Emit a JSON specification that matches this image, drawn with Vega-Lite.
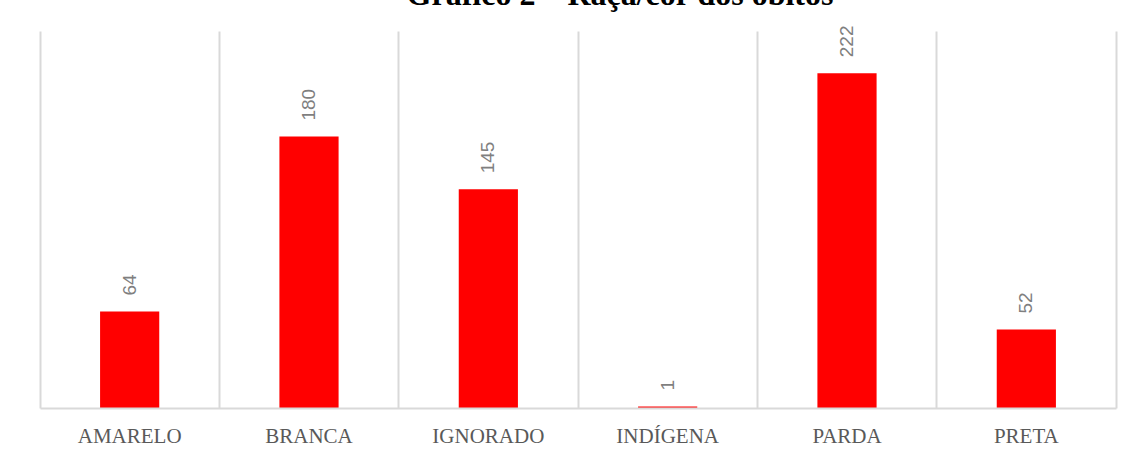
{
  "$schema": "https://vega.github.io/schema/vega-lite/v6.json",
  "autosize": {"type": "none"},
  "padding": {"left": 40, "top": 31, "right": 18, "bottom": 52},
  "width": 1076,
  "height": 377,
  "background": "white",
  "title": {
    "text": "Gráfico 2 – Raça/cor dos óbitos",
    "font": "Liberation Serif",
    "fontSize": 32,
    "fontWeight": "bold",
    "color": "black",
    "anchor": "middle",
    "dx": 42,
    "dy": -10
  },
  "data": {
    "values": [
      {"raca": "AMARELO", "obitos": 64},
      {"raca": "BRANCA", "obitos": 180},
      {"raca": "IGNORADO", "obitos": 145},
      {"raca": "INDÍGENA", "obitos": 1},
      {"raca": "PARDA", "obitos": 222},
      {"raca": "PRETA", "obitos": 52}
    ]
  },
  "encoding": {
    "x": {
      "field": "raca",
      "type": "nominal",
      "sort": null,
      "scale": {"paddingInner": 0, "paddingOuter": 0},
      "axis": {
        "title": null,
        "labelAngle": 0,
        "labelFont": "Liberation Serif",
        "labelFontSize": 21,
        "labelColor": "#595959",
        "labelPadding": 17,
        "ticks": false,
        "domainColor": "#d9d9d9",
        "domainWidth": 2,
        "grid": true,
        "gridColor": "#d9d9d9",
        "gridWidth": 2,
        "bandPosition": 0,
        "zindex": 1
      }
    },
    "y": {
      "field": "obitos",
      "type": "quantitative",
      "scale": {"domain": [0, 250], "nice": false},
      "axis": {
        "orient": "right",
        "title": null,
        "labels": false,
        "ticks": false,
        "grid": false,
        "domainColor": "#d9d9d9",
        "domainWidth": 2
      }
    }
  },
  "layer": [
    {
      "mark": {"type": "bar", "color": "#ff0000", "width": {"band": 0.33}}
    },
    {
      "mark": {
        "type": "text",
        "angle": -90,
        "align": "left",
        "baseline": "middle",
        "dx": 16,
        "font": "Liberation Sans",
        "fontSize": 19,
        "color": "#7f7f7f"
      },
      "encoding": {"text": {"field": "obitos", "type": "quantitative"}}
    }
  ],
  "config": {"view": {"stroke": null}}
}
